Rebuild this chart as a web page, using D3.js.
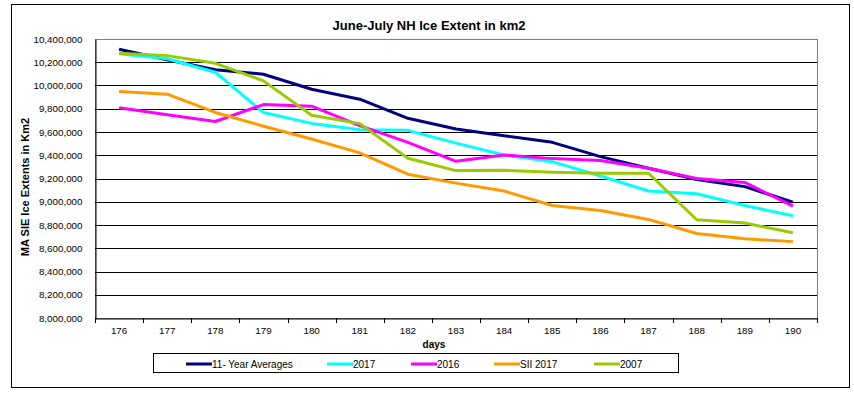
<!DOCTYPE html>
<html>
<head>
<meta charset="utf-8">
<script src="https://cdn.jsdelivr.net/npm/d3@7"></script>
<style>
  body { margin: 0; background: #fff; }
  text { font-family: Arial, "Liberation Sans", sans-serif; }
</style>
</head>
<body>
<div id="chart"></div>
<script>
const days = [176, 177, 178, 179, 180, 181, 182, 183, 184, 185, 186, 187, 188, 189, 190];
const yTicks = [8000000, 8200000, 8400000, 8600000, 8800000, 9000000, 9200000,
  9400000, 9600000, 9800000, 10000000, 10200000, 10400000];

const avg11 = [10312000, 10222000, 10136000, 10097000, 9968000, 9882000, 9718000,
  9626000, 9568000, 9511000, 9388000, 9288000, 9192000, 9130000, 8997000];
const y2017 = [10272000, 10230000, 10114000, 9767000, 9674000, 9620000, 9614000,
  9504000, 9402000, 9345000, 9222000, 9092000, 9069000, 8968000, 8879000];
const y2016 = [9808000, 9748000, 9690000, 9836000, 9822000, 9655000, 9511000,
  9348000, 9402000, 9371000, 9354000, 9288000, 9200000, 9166000, 8962000];
const sii2017 = [9948000, 9925000, 9768000, 9650000, 9540000, 9420000, 9237000,
  9160000, 9092000, 8968000, 8925000, 8848000, 8727000, 8681000, 8657000];
const y2007 = [10278000, 10257000, 10191000, 10040000, 9744000, 9672000, 9374000,
  9268000, 9271000, 9254000, 9245000, 9245000, 8845000, 8817000, 8733000];

const seriesNames = ["11- Year Averages", "2017", "2016", "SII 2017", "2007"];
const seriesColors = ["#000080", "#00ffff", "#ff00ff", "#ff9900", "#99cc00"];
const seriesValues = [avg11, y2017, y2016, sii2017, y2007];

const width = 854, height = 394;
const plot = { left: 95, top: 39, right: 817, bottom: 318 };

const svg = d3.select("#chart").append("svg")
  .attr("width", width)
  .attr("height", height);

// outer frame
svg.append("rect")
  .attr("x", 11.5).attr("y", 4.5)
  .attr("width", 838).attr("height", 383)
  .attr("fill", "none").attr("stroke", "#000");

const x = d3.scaleBand().domain(days).range([plot.left, plot.right]).padding(0);
const y = d3.scaleLinear().domain([8000000, 10400000]).range([plot.bottom, plot.top]);

// plot frame (grey) top / right
svg.append("rect")
  .attr("x", plot.left + 0.5).attr("y", plot.top + 0.5)
  .attr("width", plot.right - plot.left).attr("height", plot.bottom - plot.top)
  .attr("fill", "none").attr("stroke", "#808080");

// gridlines
svg.append("g")
  .selectAll("line")
  .data(yTicks.slice(1, -1))
  .join("line")
  .attr("x1", plot.left).attr("x2", plot.right)
  .attr("y1", d => Math.round(y(d)) + 0.5)
  .attr("y2", d => Math.round(y(d)) + 0.5)
  .attr("stroke", "#000");

// y axis
const yAxis = svg.append("g")
  .attr("transform", `translate(${plot.left + 0.5},0)`)
  .call(d3.axisLeft(y).tickValues(yTicks).tickSize(0).tickPadding(13)
    .tickFormat(d3.format(",")));
yAxis.select(".domain").attr("stroke", "#000");
yAxis.selectAll("text").attr("font-size", "9.8px").attr("fill", "#000");

// x axis
const xAxis = svg.append("g")
  .attr("transform", `translate(0,${plot.bottom + 0.5})`)
  .call(d3.axisBottom(x).tickSize(0).tickPadding(9));
xAxis.select(".domain").attr("stroke", "#000");
xAxis.selectAll("text").attr("font-size", "9.8px").attr("fill", "#000");

// tick marks at band edges
svg.append("g")
  .selectAll("line")
  .data(days.map(d => x(d)).concat([plot.right]))
  .join("line")
  .attr("x1", d => Math.round(d) + 0.5).attr("x2", d => Math.round(d) + 0.5)
  .attr("y1", plot.bottom).attr("y2", plot.bottom + 5)
  .attr("stroke", "#000");

// lines
const line = d3.line()
  .x((d, i) => x(days[i]) + x.bandwidth() / 2)
  .y(d => y(d));

svg.append("g")
  .selectAll("path")
  .data(seriesValues)
  .join("path")
  .attr("d", line)
  .attr("fill", "none")
  .attr("stroke", (d, i) => seriesColors[i])
  .attr("stroke-width", 3)
  .attr("stroke-linejoin", "round");

// title
svg.append("text")
  .attr("x", 429).attr("y", 30)
  .attr("text-anchor", "middle")
  .attr("font-size", "13px").attr("font-weight", "bold")
  .text("June-July NH Ice Extent in km2");

// axis titles
svg.append("text")
  .attr("x", 434).attr("y", 348)
  .attr("text-anchor", "middle")
  .attr("font-size", "10px").attr("font-weight", "bold")
  .text("days");

svg.append("text")
  .attr("transform", "translate(29,187) rotate(-90)")
  .attr("text-anchor", "middle")
  .attr("font-size", "11px").attr("font-weight", "bold")
  .text("MA SIE Ice Extents in Km2");

// legend
svg.append("rect")
  .attr("x", 153.5).attr("y", 353.5)
  .attr("width", 525).attr("height", 19)
  .attr("fill", "#fff").attr("stroke", "#000");

const legendX = [186, 327, 411, 494, 594];
const legend = svg.append("g")
  .selectAll("g")
  .data(seriesNames)
  .join("g")
  .attr("transform", (d, i) => `translate(${legendX[i]},364)`);

legend.append("line")
  .attr("x1", 0).attr("x2", 26)
  .attr("stroke", (d, i) => seriesColors[i])
  .attr("stroke-width", 3);

legend.append("text")
  .attr("x", 26).attr("y", 3.5)
  .attr("font-size", "10px")
  .text(d => d);
</script>
</body>
</html>
